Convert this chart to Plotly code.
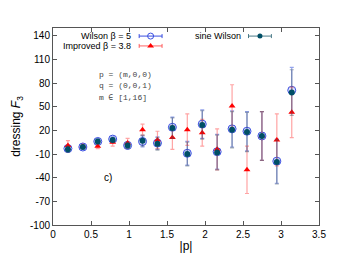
import math
import plotly.graph_objects as go

# ---- data ----
m_vals = list(range(1, 17))
p_abs = [2 * math.pi * m / 32 for m in m_vals]

wilson = [-3, -1, 6, 9, 1, 6, 4, 24, -9, 28, -7, 22, 19, 13, -19, 71]
wilson_err = [4, 2, 3, 3, 4, 7, 8, 13, 15, 18, 22, 23, 25, 31, 28, 29]
improved = [1, 0, 0, 5, 4, 21, 8, 11, 21, 17, -4, 51, -30, 13, 8, 43]
improved_err = [6, 2, 3, 5, 6, 7, 11, 15, 20, 17, 26, 27, 30, 31, 33, 32]
sine = [-4, -1, 6, 8, 1, 7, 3, 23, -10, 27, -8, 21, 18, 13, -20, 68]
sine_err = [4, 2, 3, 3, 4, 7, 8, 13, 15, 18, 22, 23, 25, 31, 28, 29]

x_ticks = [0, 0.5, 1, 1.5, 2, 2.5, 3, 3.5]
y_ticks = [-100, -70, -40, -10, 20, 50, 80, 110, 140]

BLUE = "#3a4fe0"
BLUE_BAR = "rgba(60,90,220,0.55)"
RED = "#ff0000"
RED_BAR = "rgba(255,90,90,0.55)"
TEAL = "#004f66"
TEAL_BAR = "rgba(60,80,100,0.45)"

fig = go.Figure()

fig.add_trace(go.Scatter(
    x=p_abs, y=wilson, mode="markers", showlegend=False,
    marker=dict(symbol="circle", size=8, color="rgba(120,140,255,0.25)",
                line=dict(color=BLUE, width=1)),
    error_y=dict(type="data", array=wilson_err, color=BLUE_BAR, thickness=1.2, width=2),
))
fig.add_trace(go.Scatter(
    x=p_abs, y=improved, mode="markers", showlegend=False,
    marker=dict(symbol="triangle-up", size=6, color=RED),
    error_y=dict(type="data", array=improved_err, color=RED_BAR, thickness=1.2, width=2),
))
fig.add_trace(go.Scatter(
    x=p_abs, y=sine, mode="markers", showlegend=False,
    marker=dict(symbol="circle", size=6, color=TEAL),
    error_y=dict(type="data", array=sine_err, color=TEAL_BAR, thickness=1.2, width=2),
))

# ---- legend samples on an overlay paper-like axis ----
leg_x = [0.367, 0.367, 0.778]
leg_y = [0.959, 0.909, 0.959]
fig.add_trace(go.Scatter(
    x=[leg_x[0]], y=[leg_y[0]], xaxis="x2", yaxis="y2", mode="markers", showlegend=False,
    marker=dict(symbol="circle-open", size=6, color=BLUE, line=dict(width=1)),
    error_x=dict(type="constant", value=0.043, color=BLUE, thickness=1, width=2),
))
fig.add_trace(go.Scatter(
    x=[leg_x[1]], y=[leg_y[1]], xaxis="x2", yaxis="y2", mode="markers", showlegend=False,
    marker=dict(symbol="triangle-up", size=6, color=RED),
    error_x=dict(type="constant", value=0.043, color="rgba(255,60,60,0.8)", thickness=1, width=2),
))
fig.add_trace(go.Scatter(
    x=[leg_x[2]], y=[leg_y[2]], xaxis="x2", yaxis="y2", mode="markers", showlegend=False,
    marker=dict(symbol="circle", size=5, color=TEAL),
    error_x=dict(type="constant", value=0.043, color="#4a7a88", thickness=1, width=2),
))

font_main = "Liberation Sans, Arial, sans-serif"
mono = "Liberation Mono, monospace"
annotations = [
    dict(x=0.301, y=0.959, xref="x2", yref="y2", text="Wilson β = 5", showarrow=False,
         xanchor="right", yanchor="middle", font=dict(size=9, color="black", family=font_main)),
    dict(x=0.301, y=0.909, xref="x2", yref="y2", text="Improved β = 3.8", showarrow=False,
         xanchor="right", yanchor="middle", font=dict(size=9, color="black", family=font_main)),
    dict(x=0.714, y=0.959, xref="x2", yref="y2", text="sine Wilson", showarrow=False,
         xanchor="right", yanchor="middle", font=dict(size=9, color="black", family=font_main)),
    dict(x=0.165, y=0.762, xref="x2", yref="y2", text="p = (m,0,0)", showarrow=False,
         xanchor="left", yanchor="middle", font=dict(size=8, color="#444", family=mono)),
    dict(x=0.165, y=0.706, xref="x2", yref="y2", text="q = (0,0,1)", showarrow=False,
         xanchor="left", yanchor="middle", font=dict(size=8, color="#444", family=mono)),
    dict(x=0.165, y=0.648, xref="x2", yref="y2", text="m ∈ [1,16]", showarrow=False,
         xanchor="left", yanchor="middle", font=dict(size=8, color="#444", family=mono)),
    dict(x=0.72, y=-40, xref="x", yref="y", text="c)", showarrow=False,
         xanchor="center", yanchor="middle", font=dict(size=10, color="black", family=font_main)),
]

fig.update_layout(
    width=360, height=254,
    margin=dict(l=45, r=49, t=20, b=37, autoexpand=False),
    paper_bgcolor="white", plot_bgcolor="white",
    showlegend=False,
    font=dict(family=font_main, size=10, color="black"),
    annotations=annotations,
    xaxis=dict(
        range=[0, 3.5], tickvals=x_ticks, ticktext=[str(v) for v in x_ticks],
        ticks="inside", ticklen=4, tickcolor="#555", showline=True, linecolor="#555", linewidth=1,
        mirror="allticks", showgrid=False, zeroline=False, automargin=False,
        title=dict(text="|p|", standoff=2, font=dict(size=12)),
        tickfont=dict(size=10),
    ),
    yaxis=dict(
        range=[-100, 150], tickvals=y_ticks, ticktext=[str(v) for v in y_ticks],
        ticks="inside", ticklen=4, tickcolor="#555", showline=True, linecolor="#555", linewidth=1,
        mirror="allticks", showgrid=False, zeroline=False, automargin=False,
        title=dict(text="dressing <i>F</i><sub>3</sub>", standoff=6, font=dict(size=12)),
        tickfont=dict(size=10),
    ),
    xaxis2=dict(range=[0, 1], overlaying="x", visible=False, fixedrange=True, automargin=False),
    yaxis2=dict(range=[0, 1], overlaying="y", visible=False, fixedrange=True, automargin=False),
)

fig.write_html("out.html")
